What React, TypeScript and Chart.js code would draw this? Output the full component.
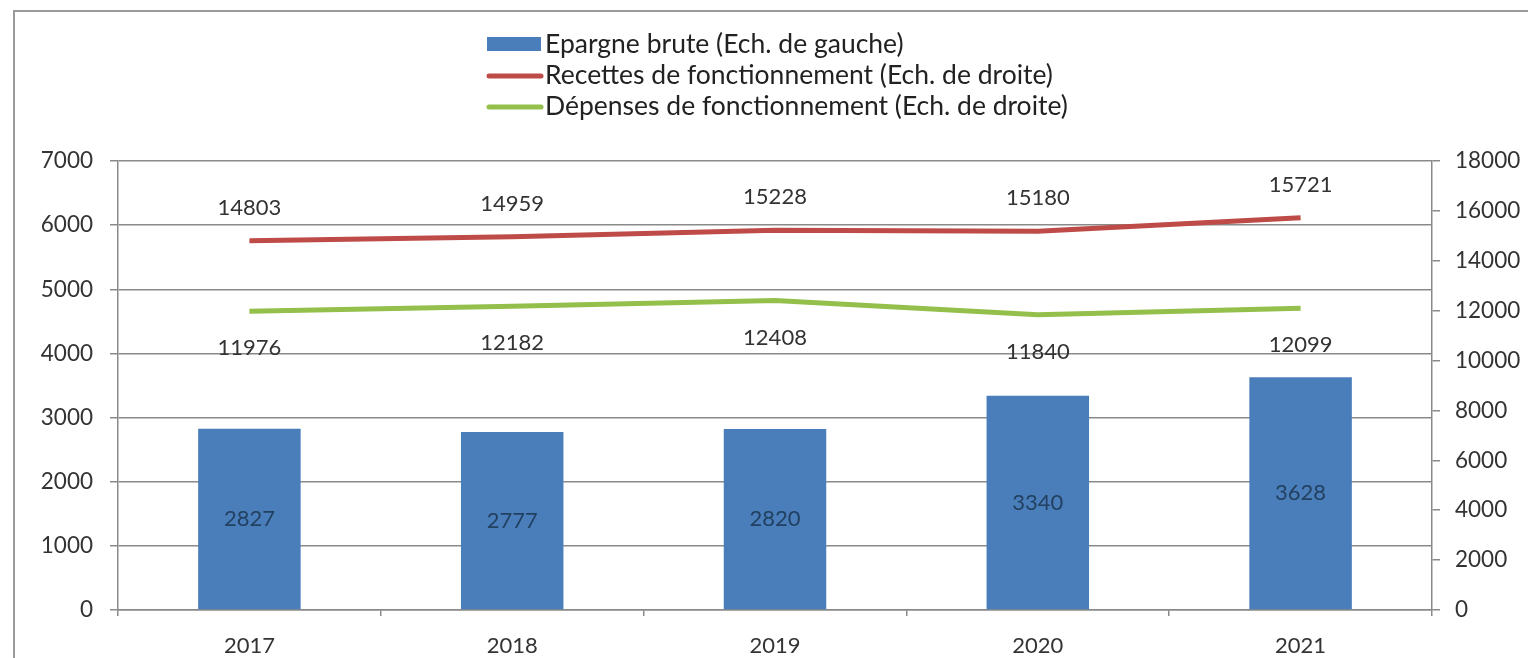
import React, { useEffect, useRef } from "react";
import { Chart, registerables } from "chart.js";

Chart.register(...registerables);

const categories = ["2017", "2018", "2019", "2020", "2021"];
const epargneBrute = [2827, 2777, 2820, 3340, 3628];
const recettes = [14803, 14959, 15228, 15180, 15721];
const depenses = [11976, 12182, 12408, 11840, 12099];
const leftTicks = { min: 0, max: 7000, step: 1000 };
const rightTicks = { min: 0, max: 18000, step: 2000 };

const FONT = "Lato, 'Open Sans', sans-serif";
const TEXT = "#333333";
const GRID = "#8a8a8a";

const labelPlugin = {
  id: "valueLabels",
  afterDatasetsDraw(chart: any) {
    const ctx = chart.ctx;
    ctx.save();
    ctx.font = `22px ${FONT}`;
    ctx.textAlign = "center";
    ctx.textBaseline = "middle";
    chart.data.datasets.forEach((ds: any, i: number) => {
      const meta = chart.getDatasetMeta(i);
      meta.data.forEach((el: any, j: number) => {
        const v = ds.data[j];
        let y = el.y;
        if (ds.type === "bar") {
          y = (el.y + el.base) / 2;
          ctx.fillStyle = "#22405f";
        } else if (i === 1) {
          y = el.y - 33;
          ctx.fillStyle = TEXT;
        } else {
          y = el.y + 37;
          ctx.fillStyle = TEXT;
        }
        ctx.fillText(String(v), el.x, y);
      });
    });
    ctx.restore();
  },
};

const legendPlugin = {
  id: "stackLegend",
  afterDraw(chart: any) {
    const ctx = chart.ctx;
    ctx.save();
    ctx.font = `26.5px ${FONT}`;
    ctx.textAlign = "left";
    ctx.textBaseline = "middle";
    const x0 = 487;
    const rows = [44, 75, 106];
    chart.data.datasets.forEach((ds: any, i: number) => {
      const y = rows[i];
      if (ds.type === "bar") {
        ctx.fillStyle = ds.backgroundColor;
        ctx.fillRect(x0, y - 7, 54, 14);
      } else {
        ctx.strokeStyle = ds.borderColor;
        ctx.lineWidth = 5;
        ctx.lineCap = "round";
        ctx.beginPath();
        ctx.moveTo(x0 + 2, y + 1);
        ctx.lineTo(x0 + 54, y + 1);
        ctx.stroke();
      }
      ctx.fillStyle = "#222222";
      ctx.fillText(ds.label, x0 + 58, y);
    });
    ctx.restore();
  },
};

const plain = (v: any) => String(v);

export default function App() {
  const ref = useRef<HTMLCanvasElement | null>(null);

  useEffect(() => {
    if (!ref.current) return;
    const chart = new Chart(ref.current, {
      data: {
        labels: categories,
        datasets: [
          {
            type: "bar",
            label: "Epargne brute (Ech. de gauche)",
            data: epargneBrute,
            backgroundColor: "#4a7ebb",
            yAxisID: "y",
            barPercentage: 0.39,
            categoryPercentage: 1,
            order: 2,
          },
          {
            type: "line",
            label: "Recettes de fonctionnement (Ech. de droite)",
            data: recettes,
            borderColor: "#be4b48",
            backgroundColor: "#be4b48",
            borderWidth: 5,
            pointRadius: 0,
            tension: 0,
            yAxisID: "y1",
            order: 1,
          },
          {
            type: "line",
            label: "Dépenses de fonctionnement (Ech. de droite)",
            data: depenses,
            borderColor: "#93bf4a",
            backgroundColor: "#93bf4a",
            borderWidth: 5,
            pointRadius: 0,
            tension: 0,
            yAxisID: "y1",
            order: 1,
          },
        ] as any,
      },
      options: {
        animation: false,
        responsive: false,
        maintainAspectRatio: false,
        layout: { padding: { top: 161, left: 0, right: 0, bottom: 0 } },
        plugins: {
          legend: { display: false },
          tooltip: { enabled: false },
        },
        scales: {
          x: {
            offset: true,
            grid: {
              offset: true,
              drawOnChartArea: false,
              drawTicks: true,
              tickLength: 6,
              color: GRID,
              lineWidth: 1.5,
            },
            border: { display: true, color: GRID, width: 1.5 },
            ticks: {
              color: TEXT,
              font: { family: FONT, size: 22 },
              padding: 17,
              maxRotation: 0,
            },
            afterFit(scale: any) {
              scale.height = 48;
            },
          },
          y: {
            position: "left",
            min: leftTicks.min,
            max: leftTicks.max,
            ticks: {
              stepSize: leftTicks.step,
              color: TEXT,
              font: { family: FONT, size: 22.5 },
              padding: 17,
              callback: plain,
            },
            grid: { color: GRID, lineWidth: 1.5, tickLength: 8 },
            border: { display: true, color: GRID, width: 1.5 },
            afterFit(scale: any) {
              scale.width = 118;
            },
          },
          y1: {
            position: "right",
            min: rightTicks.min,
            max: rightTicks.max,
            ticks: {
              stepSize: rightTicks.step,
              color: TEXT,
              font: { family: FONT, size: 22.5 },
              padding: 15,
              callback: plain,
            },
            grid: {
              drawOnChartArea: false,
              color: GRID,
              lineWidth: 1.5,
              tickLength: 8,
            },
            border: { display: true, color: GRID, width: 1.5 },
            afterFit(scale: any) {
              scale.width = 96;
            },
          },
        },
      } as any,
      plugins: [labelPlugin, legendPlugin],
    });
    return () => chart.destroy();
  }, []);

  return (
    <div
      style={{
        position: "fixed",
        left: 0,
        top: 0,
        width: 1528,
        height: 658,
        background: "#fff",
      }}
    >
      <div
        style={{
          position: "absolute",
          left: 13,
          top: 10,
          right: 0,
          bottom: 0,
          borderTop: "2px solid #9a9a9a",
          borderLeft: "2px solid #9a9a9a",
        }}
      />
      <canvas
        ref={ref}
        width={1528}
        height={658}
        style={{ position: "absolute", left: 0, top: 0, width: 1528, height: 658 }}
      />
    </div>
  );
}
